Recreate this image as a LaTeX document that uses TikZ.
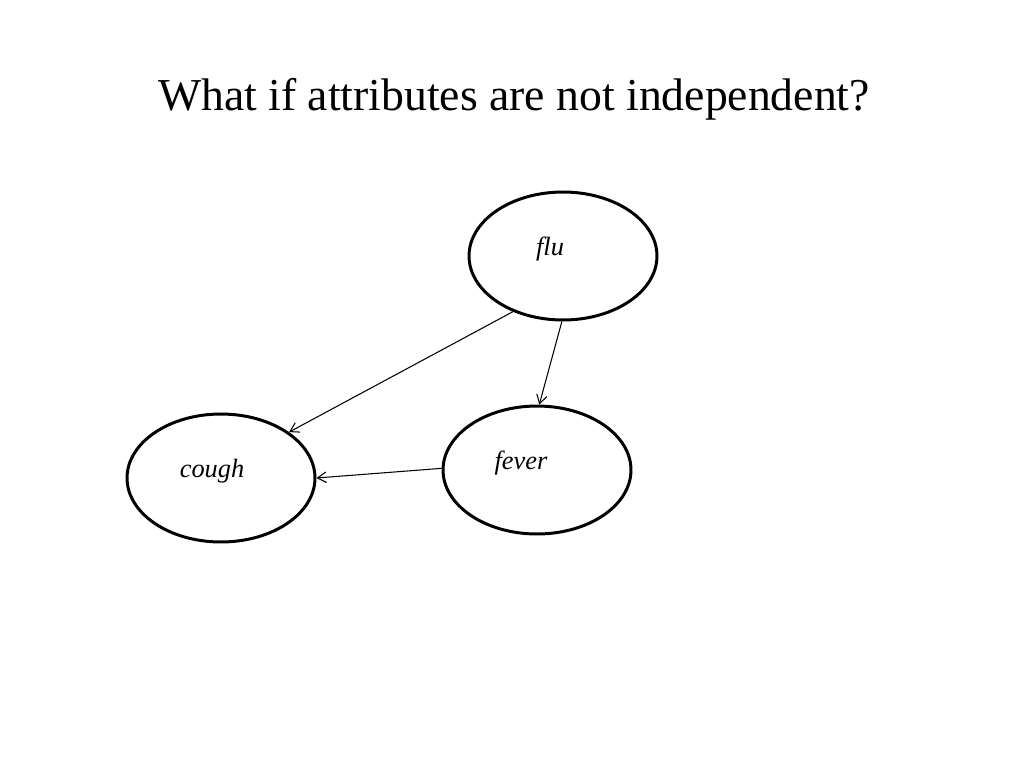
\documentclass[tikz,border=0pt]{standalone}
\usepackage{fontspec}
\setmainfont{Liberation Serif}
\newfontfamily\slidefont{Liberation Serif}
\usetikzlibrary{shapes.geometric,arrows.meta}

\begin{document}
\begin{tikzpicture}[x=0.02cm,y=-0.02cm,>={Straight Barb[length=5pt,width=6pt]},
                    main node/.style={ellipse,draw,line width=1.7pt,minimum width=3.76cm,minimum height=2.56cm},
                    word/.style={font=\slidefont\fontsize{15}{17}\selectfont\itshape}]
  \useasboundingbox (0,0) rectangle (1024,768);
  \node[font=\slidefont\fontsize{26}{30}\selectfont] (title) at (514,99) {What if attributes are not independent?};
  \node[main node] (flu) at (563,256) {};
  \node[main node] (fever) at (537,470) {};
  \node[main node] (cough) at (221,478) {};
  \node[word] (flut) at (550,249) {flu};
  \node[word] (fevert) at (521,463) {fever};
  \node[word] (cought) at (212,471) {cough};
  \path[->,line width=0.6pt]
    (flu.228) edge (cough.34)
    (flu.269) edge (fever.88)
    (fever.179) edge (cough.0);
\end{tikzpicture}
\end{document}
